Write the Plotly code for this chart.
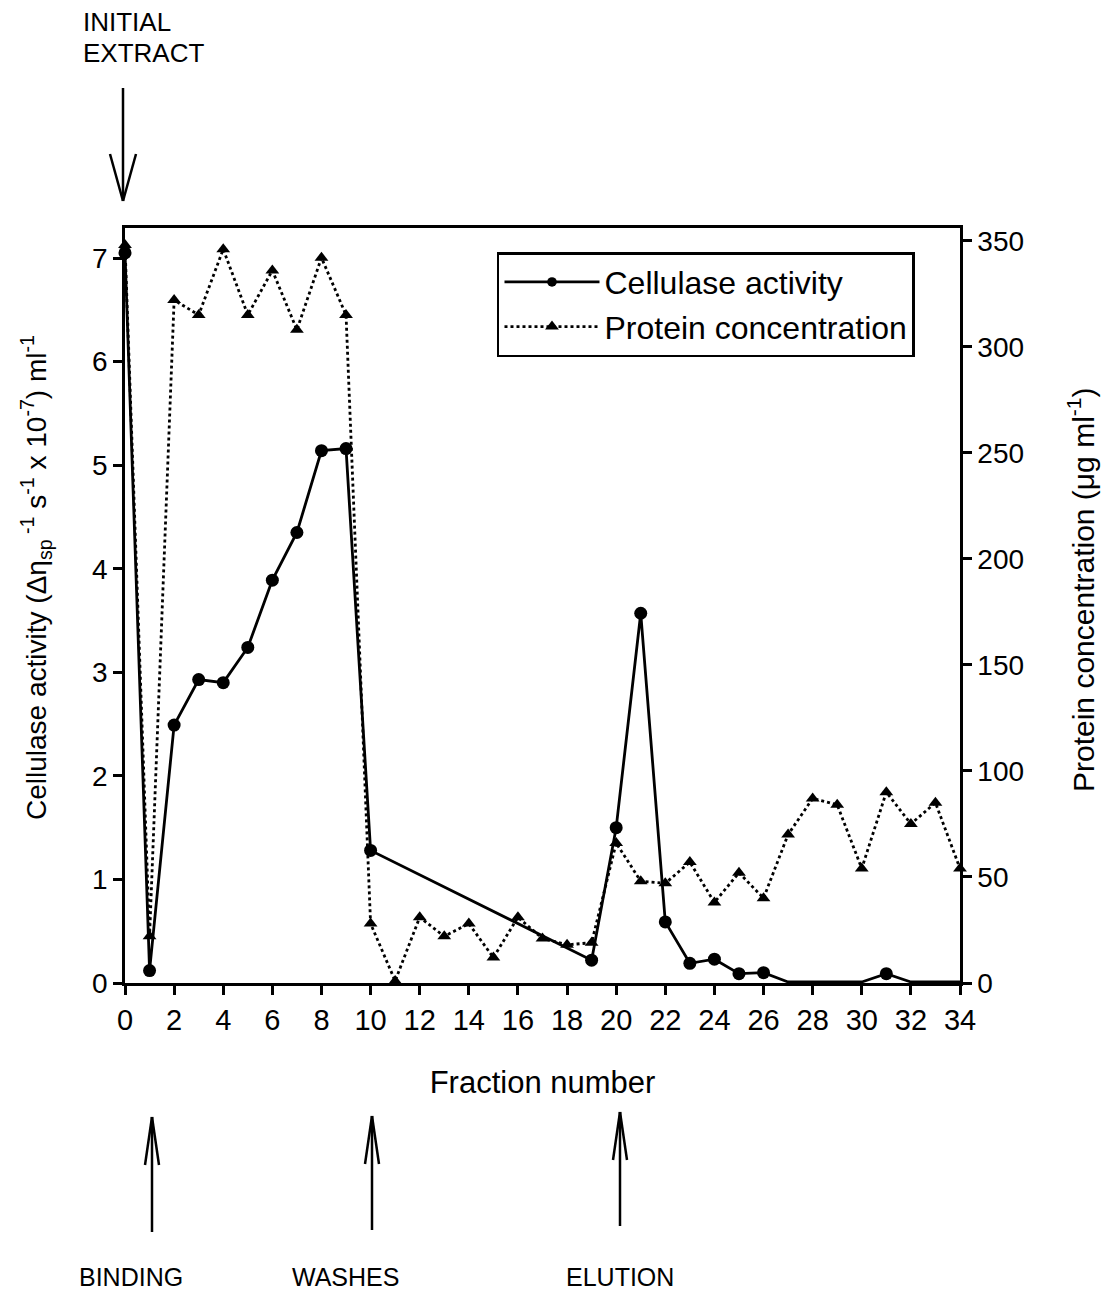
import plotly.graph_objects as go

fractions_cell = [0, 1, 2, 3, 4, 5, 6, 7, 8, 9, 10, 19, 20, 21, 22, 23, 24, 25, 26, 27, 28, 29, 30, 31, 32, 33, 34]
cellulase = [7.05, 0.12, 2.49, 2.93, 2.90, 3.24, 3.89, 4.35, 5.14, 5.16, 1.28, 0.22, 1.50, 3.57, 0.59, 0.19, 0.23, 0.09, 0.10,
             0.01, 0.01, 0.01, 0.01, 0.09, 0.01, 0.01, 0.01]
cell_marker_sizes = [13] * 19 + [0, 0, 0, 0, 13, 0, 0, 0]

fractions_prot = list(range(0, 35))
protein = [348, 22, 322, 315, 346, 315, 336, 308, 342, 315, 28, 1, 31, 22, 28, 12, 31, 21, 18, 19,
           66, 48, 47, 57, 38, 52, 40, 70, 87, 84, 54, 90, 75, 85, 54]

x_ticks = list(range(0, 35, 2))
left_ticks = [0, 1, 2, 3, 4, 5, 6, 7]
right_ticks = [0, 50, 100, 150, 200, 250, 300, 350]

FONT = "Liberation Sans, Arial, sans-serif"

fig = go.Figure()
fig.add_trace(go.Scatter(
    x=fractions_cell, y=cellulase, name="Cellulase activity", mode="lines+markers",
    line=dict(color="black", width=2.8, dash="solid"),
    marker=dict(symbol="circle", size=cell_marker_sizes, color="black", opacity=1,
                line=dict(width=0)),
    yaxis="y", cliponaxis=False))
fig.add_trace(go.Scatter(
    x=fractions_prot, y=protein, name="Protein concentration", mode="lines+markers",
    line=dict(color="black", width=2.8, dash="dot"),
    marker=dict(symbol="triangle-up", size=12, color="black", opacity=1, line=dict(width=0)),
    yaxis="y2", cliponaxis=False))

axis_common = dict(showgrid=False, zeroline=False, linecolor="black", linewidth=2.5,
                   ticks="outside", ticklen=9, tickwidth=2.5, tickcolor="black")

fig.update_layout(
    width=1105, height=1291,
    margin=dict(l=125, r=145, t=228, b=308),
    paper_bgcolor="white", plot_bgcolor="white",
    font=dict(family=FONT, color="black"),
    showlegend=True,
    legend=dict(x=0.4455, y=0.968, xanchor="left", yanchor="top",
                bgcolor="white", bordercolor="black", borderwidth=2.5,
                font=dict(family=FONT, size=32, color="black"),
                itemwidth=95, tracegroupgap=0),
    xaxis=dict(range=[0, 34], tickvals=x_ticks, ticktext=[str(v) for v in x_ticks],
               mirror=True,
               tickfont=dict(family=FONT, size=29, color="black"),
               title=dict(text="Fraction number", font=dict(family=FONT, size=31, color="black"), standoff=37),
               **axis_common),
    yaxis=dict(range=[0, 7.29], tickvals=left_ticks, ticktext=[str(v) for v in left_ticks],
               tickfont=dict(family=FONT, size=28, color="black"),
               **axis_common),
    yaxis2=dict(range=[0, 356], tickvals=right_ticks, ticktext=[str(v) for v in right_ticks],
                overlaying="y", side="right",
                tickfont=dict(family=FONT, size=28, color="black"),
                **axis_common),
)

# Pixel geometry converted to paper coordinates
PLOT_LEFT = 125.0
PLOT_W = 835.0
PLOT_BOTTOM = 983.0
PLOT_H = 755.0


def pxp(p):
    return (p - PLOT_LEFT) / PLOT_W


def pyp(p):
    return (PLOT_BOTTOM - p) / PLOT_H


# Axis titles
fig.add_annotation(text="Cellulase activity (Δη<sub>sp</sub><sup> -1</sup> s<sup>-1</sup> x 10<sup>-7</sup>) ml<sup>-1</sup>",
                   xref="paper", yref="paper", x=pxp(36), y=pyp(578), textangle=-90,
                   xanchor="center", yanchor="middle", showarrow=False,
                   font=dict(family=FONT, size=28, color="black"))
fig.add_annotation(text="Protein concentration (μg ml<sup>-1</sup>)",
                   xref="paper", yref="paper", x=pxp(1081), y=pyp(590), textangle=-90,
                   xanchor="center", yanchor="middle", showarrow=False,
                   font=dict(family=FONT, size=30, color="black"))


def arrow(xpix, y_tail, y_tip, head_len, half_w):
    fig.add_shape(type="line", xref="paper", yref="paper", x0=pxp(xpix), x1=pxp(xpix),
                  y0=pyp(y_tail), y1=pyp(y_tip), line=dict(color="black", width=2.5))
    yb = y_tip + head_len if y_tip < y_tail else y_tip - head_len
    for s in (-1, 1):
        fig.add_shape(type="line", xref="paper", yref="paper", x0=pxp(xpix), x1=pxp(xpix + s * half_w),
                      y0=pyp(y_tip), y1=pyp(yb), line=dict(color="black", width=2.5))


# Initial extract arrow (pointing down)
arrow(123, 88, 201, 47, 13)
# Bottom arrows (pointing up)
arrow(152, 1232, 1117, 48, 7)
arrow(372, 1230, 1116, 48, 7)
arrow(620, 1226, 1112, 48, 7)

top_font = dict(family=FONT, size=26, color="black")
for txt, yc in [("INITIAL", 22), ("EXTRACT", 53)]:
    fig.add_annotation(text=txt, xref="paper", yref="paper", x=pxp(81), y=pyp(yc),
                       xanchor="left", yanchor="middle", showarrow=False, font=top_font)

lab_font = dict(family=FONT, size=25, color="black")
for label, xc in [("BINDING", 131), ("WASHES", 345), ("ELUTION", 620)]:
    fig.add_annotation(text=label, xref="paper", yref="paper", x=pxp(xc), y=pyp(1277),
                       xanchor="center", yanchor="middle", showarrow=False, font=lab_font)

fig.write_html("out.html", config={"displayModeBar": False},
               post_script="document.body.style.margin='0px';")
